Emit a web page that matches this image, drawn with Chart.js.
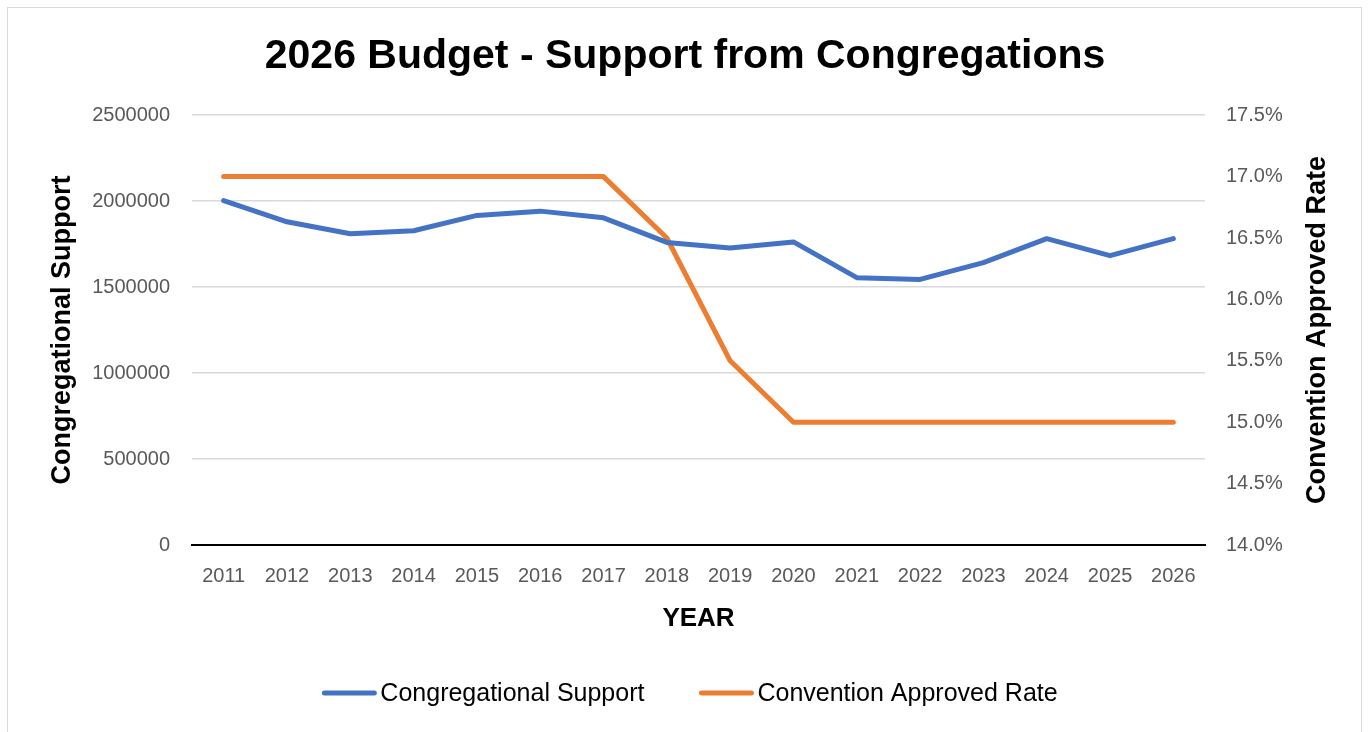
<!DOCTYPE html>
<html>
<head>
<meta charset="utf-8">
<script src="https://cdn.jsdelivr.net/npm/chart.js@4"></script>
<style>
  html, body { margin: 0; padding: 0; background: #ffffff; width: 1370px; height: 732px; overflow: hidden; }
  #frame { position: absolute; left: 7px; top: 7px; width: 1355px; height: 740px; border: 1px solid #d9d9d9; box-sizing: border-box; }
  #wrap { position: absolute; left: 0; top: 0; width: 1370px; height: 732px; }
</style>
</head>
<body>
<div id="frame"></div>
<div id="wrap"><canvas id="c" width="1370" height="732"></canvas></div>
<script>
const years = ['2011','2012','2013','2014','2015','2016','2017','2018','2019','2020','2021','2022','2023','2024','2025','2026'];
const congregationalSupport = [2003000, 1880000, 1810000, 1828000, 1917000, 1942000, 1903000, 1760000, 1727000, 1763000, 1555000, 1545000, 1642000, 1782000, 1683000, 1782000];
const conventionRate = [17.0, 17.0, 17.0, 17.0, 17.0, 17.0, 17.0, 16.5, 15.5, 15.0, 15.0, 15.0, 15.0, 15.0, 15.0, 15.0];
const titleText = '2026 Budget - Support from Congregations';
const leftAxisTitle = 'Congregational Support';
const rightAxisTitle = 'Convention Approved Rate';
const xAxisTitle = 'YEAR';

const FONT = "'Liberation Sans', Arial, sans-serif";
const AXIS_TITLE_SIZE = 27;
const LEGEND_SIZE = 25;

// Right axis title reading bottom-to-top, as in the reference
const rightTitlePlugin = {
  id: 'rightTitle',
  afterDraw(chart) {
    const s = chart.scales.y1;
    const ctx = chart.ctx;
    ctx.save();
    ctx.translate(s.right - 22, (s.top + s.bottom) / 2);
    ctx.rotate(-Math.PI / 2);
    ctx.textAlign = 'center';
    ctx.textBaseline = 'middle';
    ctx.fillStyle = '#000000';
    ctx.font = 'bold ' + AXIS_TITLE_SIZE + 'px ' + FONT;
    ctx.fillText(rightAxisTitle, 0, 0);
    ctx.restore();
  }
};

// Legend drawn with a short gap between sample line and text, as in the reference
const bottomLegendPlugin = {
  id: 'bottomLegend',
  afterDraw(chart) {
    const ctx = chart.ctx;
    const ds = chart.data.datasets;
    const sampleW = 54, textGap = 4, itemGap = 55;
    ctx.save();
    ctx.font = LEGEND_SIZE + 'px ' + FONT;
    const widths = ds.map(d => sampleW + textGap + ctx.measureText(d.label).width);
    const total = widths.reduce((a, b) => a + b, 0) + itemGap * (ds.length - 1);
    let x = (chart.width) / 2 + 5 - total / 2;
    const y = 693;
    ds.forEach((d, i) => {
      ctx.strokeStyle = d.borderColor;
      ctx.lineWidth = 5;
      ctx.lineCap = 'round';
      ctx.beginPath();
      ctx.moveTo(x + 2, y);
      ctx.lineTo(x + sampleW - 2, y);
      ctx.stroke();
      ctx.fillStyle = '#000000';
      ctx.textAlign = 'left';
      ctx.textBaseline = 'middle';
      ctx.fillText(d.label, x + sampleW + textGap, y + 1);
      x += widths[i] + itemGap;
    });
    ctx.restore();
  }
};

new Chart(document.getElementById('c'), {
  type: 'line',
  data: {
    labels: years,
    datasets: [
      { label: 'Congregational Support', data: congregationalSupport, borderColor: '#4472c4', backgroundColor: '#4472c4', borderWidth: 5, pointRadius: 0, tension: 0, yAxisID: 'y', borderCapStyle: 'round', borderJoinStyle: 'round' },
      { label: 'Convention Approved Rate', data: conventionRate, borderColor: '#ed7d31', backgroundColor: '#ed7d31', borderWidth: 5, pointRadius: 0, tension: 0, yAxisID: 'y1', borderCapStyle: 'round', borderJoinStyle: 'round' }
    ]
  },
  plugins: [rightTitlePlugin, bottomLegendPlugin],
  options: {
    responsive: false,
    animation: false,
    devicePixelRatio: 1,
    layout: { padding: { left: 30, right: 30, top: 20, bottom: 98 } },
    plugins: {
      title: { display: true, text: titleText, color: '#000000', font: { family: FONT, size: 41, weight: 'bold' }, padding: { top: 12, bottom: 34 } },
      legend: { display: false },
      tooltip: { enabled: false }
    },
    scales: {
      x: {
        offset: true,
        afterFit(s) { s.height = 89; },
        grid: { display: false, drawTicks: false },
        border: { display: true, color: '#000000', width: 2 },
        ticks: { color: '#595959', font: { family: FONT, size: 20 }, padding: 19 },
        title: { display: true, text: xAxisTitle, color: '#000000', font: { family: FONT, size: 26, weight: 'bold' }, padding: { top: 0, bottom: 0 } }
      },
      y: {
        position: 'left',
        min: 0, max: 2500000,
        afterFit(s) { s.width = 162; },
        ticks: { stepSize: 500000, color: '#595959', font: { family: FONT, size: 20 }, padding: 22, callback: v => String(v) },
        grid: { color: '#d9d9d9', lineWidth: 1.5, drawTicks: false },
        border: { display: false },
        title: { display: true, text: leftAxisTitle, color: '#000000', font: { family: FONT, size: AXIS_TITLE_SIZE, weight: 'bold' }, padding: { top: 16, bottom: 0 } }
      },
      y1: {
        position: 'right',
        min: 14.0, max: 17.5,
        afterFit(s) { s.width = 135; },
        ticks: { stepSize: 0.5, color: '#595959', font: { family: FONT, size: 20 }, padding: 21, callback: v => v.toFixed(1) + '%' },
        grid: { display: false, drawTicks: false },
        border: { display: false },
        title: { display: false }
      }
    }
  }
});
</script>
</body>
</html>
